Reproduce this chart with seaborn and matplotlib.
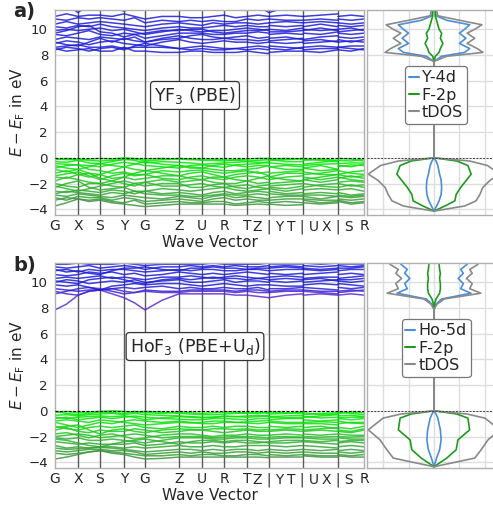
import numpy as np
import pandas as pd
import matplotlib
matplotlib.use("Agg")
import matplotlib.pyplot as plt
import seaborn as sns
from matplotlib.lines import Line2D

# ---------------- k-path ----------------
KPATH_LABELS = ["G", "X", "S", "Y", "G", "Z", "U", "R", "T", "Z | Y", "T | U", "X | S", "R"]
KPATH_POS = [0, 23, 45, 69, 90, 124, 147, 169, 192, 214, 248, 283, 309]

# band values: G m X m S m Y m G m Z m U m R m T m Z | Y m T | U m X | S m R
YF3_VALENCE = [
    [-0.15,-0.05,-0.2,-0.1,-0.05,-0.1,-0.0,-0.05,-0.25,-0.15,-0.05,-0.1,-0.2,-0.2,-0.25,-0.15,-0.1,-0.05,-0.05, -0.1,-0.05,-0.1, -0.2,-0.1,-0.2, -0.05,-0.1,-0.25],
    [-0.05,-0.15,-0.1,-0.2,-0.25,-0.2,-0.15,-0.1,-0.1,-0.05,-0.1,-0.15,-0.1,-0.1,-0.15,-0.2,-0.25,-0.2,-0.15, -0.2,-0.15,-0.05, -0.1,-0.2,-0.3, -0.2,-0.25,-0.1],
    [-0.3,-0.35,-0.2,-0.4,-0.45,-0.3,-0.1,-0.2,-0.4,-0.3,-0.35,-0.4,-0.5,-0.45,-0.4,-0.35,-0.3,-0.35,-0.4, -0.1,-0.3,-0.3, -0.5,-0.35,-0.2, -0.45,-0.4,-0.4],
    [-0.45,-0.5,-0.55,-0.6,-0.7,-0.5,-0.35,-0.45,-0.6,-0.7,-0.8,-0.6,-0.55,-0.65,-0.75,-0.55,-0.5,-0.45,-0.3, -0.4,-0.5,-0.55, -0.6,-0.5,-0.45, -0.7,-0.55,-0.6],
    [-0.6,-0.8,-0.9,-0.7,-0.45,-0.6,-0.7,-0.5,-0.3,-0.5,-0.6,-0.7,-0.8,-0.6,-0.5,-0.6,-0.7,-0.6,-0.6, -0.7,-0.6,-0.7, -0.8,-0.6,-0.9, -0.6,-0.7,-0.5],
    [-0.8,-0.6,-0.55,-0.9,-1.0,-1.2,-1.1,-1.3,-1.3,-1.0,-1.1,-1.0,-0.95,-1.1,-1.2,-1.1,-1.0,-1.2,-1.1, -1.2,-1.1,-1.0, -1.3,-1.2,-1.0, -1.0,-1.2,-1.3],
    [-0.9,-1.1,-0.9,-1.2,-1.3,-1.0,-0.7,-0.9,-1.0,-0.8,-0.6,-0.8,-0.8,-0.9,-1.0,-1.0,-0.9,-0.8,-0.6, -0.7,-0.9,-0.9, -0.8,-1.0,-0.9, -1.3,-1.1,-1.0],
    [-1.2,-1.0,-1.3,-1.5,-1.3,-1.6,-1.5,-1.2,-1.0,-1.2,-1.4,-1.2,-1.1,-1.3,-1.5,-1.3,-1.2,-1.1,-1.4, -1.5,-1.2,-1.2, -1.1,-1.3,-1.3, -1.3,-1.5,-1.4],
    [-1.4,-1.25,-1.1,-1.4,-1.7,-1.4,-1.2,-1.4,-1.3,-1.6,-1.7,-1.5,-1.4,-1.6,-1.7,-1.5,-1.4,-1.5,-1.7, -1.7,-1.5,-1.4, -1.5,-1.7,-1.5, -1.5,-1.7,-1.8],
    [-1.5,-1.6,-1.3,-1.2,-1.6,-1.8,-1.5,-1.7,-1.6,-1.4,-1.4,-1.6,-1.7,-1.5,-1.5,-1.7,-1.8,-1.6,-1.4, -1.5,-1.7,-1.8, -1.7,-1.5,-1.3, -1.6,-1.4,-1.6],
    [-1.8,-1.5,-1.7,-1.9,-2.0,-1.8,-2.0,-2.2,-1.9,-1.7,-1.9,-1.8,-1.7,-1.9,-2.0,-2.0,-1.8,-2.0,-1.9, -2.0,-1.9,-1.8, -1.7,-1.9,-1.7, -1.9,-1.8,-1.9],
    [-2.0,-2.2,-2.3,-2.0,-2.0,-2.2,-2.3,-2.0,-1.9,-2.2,-2.2,-2.1,-2.0,-2.2,-2.3,-2.2,-2.1,-2.3,-2.4, -2.2,-2.1,-2.0, -2.0,-2.2,-2.3, -2.0,-2.2,-2.1],
    [-2.2,-2.4,-2.6,-2.4,-2.2,-2.0,-1.8,-2.0,-2.2,-2.0,-2.0,-2.3,-2.3,-2.1,-2.0,-2.3,-2.4,-2.2,-2.1, -2.3,-2.4,-2.2, -2.3,-2.1,-2.0, -2.3,-2.1,-2.3],
    [-2.3,-2.0,-1.8,-2.3,-2.5,-2.4,-2.3,-2.6,-2.6,-2.4,-2.5,-2.6,-2.5,-2.4,-2.3,-2.5,-2.6,-2.5,-2.4, -2.4,-2.6,-2.4, -2.5,-2.4,-2.5, -2.5,-2.4,-2.6],
    [-2.6,-2.7,-2.5,-2.6,-2.7,-2.5,-2.6,-2.8,-2.6,-2.8,-2.7,-2.8,-2.9,-2.7,-2.6,-2.8,-2.7,-2.6,-2.7, -2.6,-2.8,-2.7, -2.8,-2.7,-2.8, -2.7,-2.9,-2.8],
    [-2.8,-2.6,-2.7,-2.8,-2.9,-2.7,-2.8,-2.6,-2.8,-2.9,-2.9,-3.0,-3.0,-2.9,-2.8,-2.9,-2.9,-2.8,-2.9, -2.8,-2.9,-2.9, -2.9,-2.9,-3.0, -2.9,-3.0,-2.9],
    [-2.9,-3.0,-2.8,-2.9,-3.0,-3.1,-2.9,-3.0,-3.1,-3.2,-3.0,-3.1,-3.2,-3.0,-2.9,-3.1,-3.0,-3.1,-3.2, -3.1,-3.0,-3.0, -3.0,-3.2,-3.0, -3.0,-3.1,-3.0],
    [-3.1,-3.3,-3.0,-3.1,-3.1,-3.3,-3.1,-3.2,-3.4,-3.3,-3.2,-3.3,-3.4,-3.2,-3.1,-3.3,-3.2,-3.3,-3.3, -3.3,-3.2,-3.2, -3.2,-3.3,-3.3, -3.2,-3.3,-3.2],
    [-3.3,-3.1,-3.2,-3.3,-3.2,-3.4,-3.5,-3.3,-3.6,-3.5,-3.4,-3.5,-3.5,-3.4,-3.4,-3.6,-3.5,-3.4,-3.5, -3.5,-3.4,-3.5, -3.3,-3.5,-3.4, -3.3,-3.5,-3.4],
    [-3.75,-3.5,-3.2,-3.4,-3.3,-3.5,-3.6,-3.7,-3.8,-3.7,-3.6,-3.6,-3.6,-3.6,-3.6,-3.7,-3.65,-3.6,-3.65, -3.6,-3.7,-3.65, -3.5,-3.6,-3.5, -3.4,-3.6,-3.5],
]
YF3_CONDUCTION = [
    [8.5,8.3,8.4,8.5,8.3,8.3,8.6,8.3,8.3,8.2,8.2,8.3,8.3,8.2,8.2,8.2,8.3,8.2,8.1, 8.2,8.3,8.3, 8.3,8.2,8.4, 8.4,8.3,8.5],
    [8.4,8.6,8.5,8.3,8.5,8.6,8.4,8.7,8.9,8.7,8.5,8.4,8.5,8.4,8.4,8.5,8.4,8.5,8.4, 8.5,8.4,8.6, 8.4,8.5,8.5, 8.6,8.5,8.4],
    [8.6,8.7,8.8,8.6,8.6,8.7,8.5,8.6,8.6,8.6,8.5,8.6,8.7,8.6,8.5,8.5,8.6,8.7,8.6, 8.7,8.6,8.5, 8.6,8.7,8.6, 8.6,8.7,8.7],
    [8.9,9.1,9.0,8.8,9.0,9.1,8.9,8.8,8.7,9.0,9.2,9.0,8.9,9.0,9.1,9.0,9.0,8.9,9.0, 9.0,8.9,9.0, 8.9,9.0,9.1, 9.0,9.1,9.0],
    [9.0,8.8,8.7,9.0,9.3,9.0,9.3,9.1,9.0,9.3,9.5,9.3,9.2,9.2,9.3,9.2,9.2,9.1,9.2, 9.1,9.2,9.3, 9.1,9.2,9.0, 9.2,9.0,9.2],
    [9.2,9.4,9.3,9.2,9.4,9.3,9.2,9.4,9.0,9.2,9.3,9.5,9.6,9.4,9.3,9.4,9.5,9.3,9.4, 9.3,9.4,9.2, 9.2,9.4,9.5, 9.4,9.3,9.4],
    [9.6,9.5,9.7,9.9,9.6,9.5,9.7,9.6,9.3,9.5,9.7,9.7,9.7,9.6,9.6,9.7,9.7,9.8,9.7, 9.6,9.7,9.6, 9.7,9.6,9.8, 9.7,9.6,9.7],
    [9.7,9.9,10.2,10.3,9.8,9.7,9.4,9.6,9.7,9.9,9.9,10.0,10.0,9.8,9.7,9.8,9.9,9.9,10.0, 9.8,9.8,9.9, 9.9,10.1,9.9, 9.8,9.9,10.0],
    [9.9,10.0,9.9,10.0,10.1,9.9,10.0,9.8,9.6,9.8,10.0,9.9,9.8,9.9,9.9,10.0,10.1,10.0,9.9, 10.0,9.9,10.1, 10.0,9.9,10.0, 10.0,10.1,9.9],
    [10.2,10.1,10.3,10.2,10.4,10.2,10.1,10.0,9.9,10.1,10.2,10.1,10.1,10.2,10.3,10.2,10.3,10.2,10.2, 10.3,10.2,10.3, 10.2,10.4,10.2, 10.3,10.2,10.3],
    [10.4,10.6,10.4,10.5,10.6,10.5,10.4,10.3,10.2,10.4,10.5,10.4,10.3,10.5,10.4,10.5,10.5,10.4,10.5, 10.5,10.6,10.5, 10.5,10.6,10.5, 10.5,10.4,10.5],
    [10.8,10.7,10.9,10.8,10.9,10.8,10.7,10.9,10.5,10.7,10.6,10.7,10.6,10.7,10.6,10.6,10.8,10.7,10.8, 10.8,10.7,10.7, 10.7,10.8,10.7, 10.8,10.7,10.8],
    [11.0,11.2,11.0,11.1,11.1,11.0,11.2,11.0,10.8,11.0,11.0,10.9,10.9,11.0,11.1,10.9,11.0,11.1,11.0, 11.0,11.1,11.0, 11.0,11.1,11.2, 11.0,11.1,11.0],
    [11.6,11.9,11.3,11.9,11.6,11.8,11.4,11.8,11.6,11.9,11.5,11.7,11.6,11.6,11.5,11.7,11.6,11.8,11.3, 11.3,11.7,11.8, 11.6,11.7,11.5, 11.6,11.7,11.6],
]
HOF3_VALENCE = [
    [-0.1,-0.05,-0.15,-0.1,-0.05,-0.0,-0.05,-0.1,-0.05,-0.1,-0.2,-0.25,-0.3,-0.3,-0.25,-0.2,-0.15,-0.2,-0.1, -0.1,-0.15,-0.2, -0.3,-0.2,-0.15, -0.1,-0.2,-0.3],
    [-0.05,-0.2,-0.3,-0.2,-0.1,-0.15,-0.2,-0.05,-0.15,-0.2,-0.1,-0.15,-0.2,-0.15,-0.1,-0.1,-0.2,-0.1,-0.2, -0.25,-0.2,-0.1, -0.15,-0.3,-0.25, -0.2,-0.1,-0.15],
    [-0.35,-0.3,-0.4,-0.3,-0.25,-0.2,-0.3,-0.2,-0.3,-0.35,-0.4,-0.45,-0.5,-0.5,-0.45,-0.45,-0.4,-0.35,-0.45, -0.45,-0.4,-0.35, -0.5,-0.4,-0.3, -0.4,-0.35,-0.45],
    [-0.5,-0.6,-0.5,-0.45,-0.4,-0.45,-0.4,-0.5,-0.7,-0.55,-0.45,-0.5,-0.55,-0.5,-0.4,-0.45,-0.5,-0.45,-0.35, -0.5,-0.55,-0.5, -0.45,-0.55,-0.5, -0.55,-0.5,-0.5],
    [-0.6,-0.5,-0.7,-0.6,-0.5,-0.6,-0.5,-0.4,-0.5,-0.6,-0.65,-0.7,-0.7,-0.6,-0.6,-0.65,-0.7,-0.6,-0.6, -0.7,-0.6,-0.6, -0.7,-0.8,-0.7, -0.6,-0.7,-0.6],
    [-0.8,-0.7,-0.8,-0.9,-0.7,-0.8,-0.9,-1.0,-1.1,-1.0,-0.9,-0.95,-0.9,-0.8,-0.8,-0.9,-0.95,-1.0,-0.9, -0.9,-1.0,-1.0, -0.9,-0.85,-0.9, -0.8,-0.95,-1.0],
    [-0.9,-1.1,-1.3,-1.1,-0.9,-1.0,-0.8,-0.7,-0.8,-0.9,-0.8,-0.9,-1.0,-1.0,-0.9,-0.9,-0.85,-0.8,-0.75, -0.8,-0.9,-0.9, -1.0,-1.0,-1.1, -1.0,-0.9,-0.9],
    [-1.2,-1.4,-1.5,-1.3,-1.2,-1.3,-1.2,-1.1,-1.3,-1.4,-1.2,-1.3,-1.3,-1.2,-1.3,-1.2,-1.2,-1.3,-1.3, -1.2,-1.3,-1.2, -1.3,-1.2,-1.4, -1.3,-1.4,-1.2],
    [-1.3,-1.2,-1.1,-1.5,-1.8,-1.5,-1.4,-1.6,-1.7,-1.5,-1.4,-1.45,-1.5,-1.4,-1.4,-1.45,-1.4,-1.5,-1.45, -1.5,-1.4,-1.45, -1.5,-1.4,-1.3, -1.5,-1.6,-1.4],
    [-1.5,-1.3,-1.6,-1.7,-1.5,-1.6,-1.6,-1.4,-1.5,-1.7,-1.6,-1.5,-1.5,-1.6,-1.7,-1.6,-1.5,-1.6,-1.6, -1.6,-1.5,-1.6, -1.6,-1.5,-1.6, -1.6,-1.7,-1.5],
    [-1.8,-1.7,-1.9,-2.1,-1.9,-1.8,-2.0,-2.2,-2.1,-1.9,-1.8,-1.8,-1.9,-2.0,-1.9,-1.9,-1.8,-1.9,-1.9, -1.9,-1.8,-1.9, -1.8,-1.9,-1.8, -1.8,-1.9,-1.9],
    [-2.0,-1.9,-1.8,-1.9,-2.1,-2.0,-1.9,-1.8,-1.9,-2.1,-2.0,-2.0,-2.0,-2.1,-2.05,-2.0,-2.0,-2.05,-2.1, -2.05,-2.0,-2.05, -2.0,-2.05,-2.0, -2.0,-2.05,-2.0],
    [-2.1,-2.2,-2.1,-2.3,-2.3,-2.2,-2.3,-2.4,-2.5,-2.3,-2.1,-2.1,-2.1,-2.2,-2.2,-2.1,-2.1,-2.2,-2.2, -2.2,-2.1,-2.1, -2.1,-2.2,-2.2, -2.1,-2.2,-2.2],
    [-2.2,-2.3,-2.5,-2.7,-2.8,-2.6,-2.4,-2.3,-2.2,-2.4,-2.6,-2.4,-2.3,-2.3,-2.4,-2.3,-2.3,-2.4,-2.5, -2.4,-2.3,-2.3, -2.3,-2.4,-2.3, -2.4,-2.3,-2.3],
    [-2.4,-2.5,-2.6,-2.5,-2.6,-2.6,-2.6,-2.5,-2.7,-2.6,-2.4,-2.5,-2.5,-2.4,-2.5,-2.4,-2.5,-2.5,-2.4, -2.5,-2.5,-2.4, -2.4,-2.5,-2.6, -2.5,-2.4,-2.5],
    [-2.7,-2.9,-2.8,-2.9,-2.8,-2.8,-2.9,-2.8,-2.9,-2.8,-2.7,-2.8,-2.8,-2.7,-2.8,-2.8,-2.7,-2.7,-2.7, -2.7,-2.8,-2.7, -2.7,-2.8,-2.9, -2.8,-2.7,-2.8],
    [-2.9,-3.0,-2.95,-2.9,-2.85,-2.9,-3.0,-3.1,-3.2,-3.1,-3.0,-3.0,-3.1,-3.0,-3.1,-3.0,-3.0,-3.1,-3.0, -3.0,-3.1,-3.0, -3.0,-3.1,-3.0, -3.1,-3.0,-3.1],
    [-3.1,-3.2,-3.1,-3.0,-3.0,-3.1,-3.1,-3.2,-3.4,-3.3,-3.2,-3.3,-3.2,-3.3,-3.3,-3.2,-3.2,-3.3,-3.2, -3.2,-3.3,-3.2, -3.2,-3.3,-3.3, -3.2,-3.3,-3.2],
    [-3.3,-3.4,-3.3,-3.2,-3.1,-3.2,-3.3,-3.4,-3.5,-3.5,-3.4,-3.5,-3.4,-3.4,-3.5,-3.5,-3.4,-3.4,-3.5, -3.4,-3.5,-3.4, -3.4,-3.5,-3.5, -3.4,-3.5,-3.4],
    [-3.75,-3.6,-3.4,-3.2,-3.1,-3.3,-3.4,-3.6,-3.75,-3.7,-3.6,-3.6,-3.6,-3.6,-3.6,-3.6,-3.6,-3.6,-3.65, -3.6,-3.6,-3.6, -3.5,-3.6,-3.6, -3.5,-3.6,-3.6],
]
HOF3_CONDUCTION = [
    [7.85,8.3,9.0,9.3,9.4,9.1,8.8,8.4,7.85,8.6,9.1,9.1,9.1,9.1,9.1,9.0,9.0,8.9,8.8, 8.8,9.0,9.1, 9.0,9.1,9.0, 9.0,9.1,9.0],
    [9.1,9.3,9.5,9.6,9.5,9.3,9.1,9.2,9.4,9.3,9.3,9.4,9.4,9.4,9.4,9.3,9.4,9.4,9.3, 9.3,9.4,9.4, 9.4,9.3,9.3, 9.3,9.4,9.3],
    [9.3,9.1,9.0,9.3,9.4,9.5,9.3,9.2,9.3,9.2,9.2,9.3,9.3,9.3,9.3,9.2,9.3,9.2,9.2, 9.2,9.3,9.3, 9.3,9.2,9.1, 9.2,9.3,9.4],
    [9.5,9.4,9.3,9.4,9.4,9.5,9.6,9.5,9.6,9.7,9.5,9.6,9.5,9.5,9.6,9.5,9.5,9.6,9.4, 9.5,9.5,9.6, 9.6,9.5,9.4, 9.6,9.5,9.6],
    [9.8,9.7,9.8,9.6,9.4,9.7,9.8,9.9,9.8,9.9,9.9,9.8,9.7,9.8,9.9,9.8,9.7,9.8,9.8, 9.8,9.7,9.7, 9.8,9.9,9.8, 9.9,9.8,9.7],
    [10.0,10.2,10.1,9.9,10.0,10.1,10.0,10.2,10.0,10.1,10.2,10.0,10.0,10.1,10.2,10.0,10.1,10.1,10.0, 10.1,10.0,10.1, 10.0,10.1,10.2, 10.1,10.0,10.1],
    [10.1,10.0,9.9,10.2,10.3,10.4,10.2,10.0,9.9,10.2,10.3,10.2,10.3,10.4,10.3,10.3,10.2,10.3,10.2, 10.2,10.3,10.2, 10.2,10.3,10.1, 10.2,10.2,10.3],
    [10.3,10.4,10.3,10.4,10.5,10.3,10.4,10.3,10.2,10.4,10.4,10.5,10.4,10.3,10.4,10.5,10.4,10.3,10.4, 10.4,10.5,10.4, 10.3,10.4,10.4, 10.3,10.4,10.5],
    [10.6,10.5,10.6,10.8,10.7,10.8,10.6,10.7,10.5,10.6,10.8,10.7,10.6,10.7,10.6,10.7,10.8,10.7,10.6, 10.7,10.6,10.7, 10.6,10.7,10.8, 10.6,10.7,10.6],
    [10.9,11.0,10.8,11.0,10.9,11.0,11.0,10.9,10.8,10.9,11.0,10.9,11.0,11.0,10.9,10.9,11.0,11.0,10.9, 10.9,11.0,11.0, 11.0,10.9,11.0, 10.9,11.0,11.0],
    [11.0,10.8,10.9,10.7,10.6,10.9,11.1,11.1,11.2,11.0,10.9,11.1,11.1,11.2,11.1,11.1,11.0,11.1,11.1, 11.1,11.2,11.1, 11.1,11.0,11.1, 11.1,11.1,11.2],
    [11.2,11.1,11.2,11.3,11.1,11.2,11.3,11.2,11.0,11.2,11.2,11.3,11.2,11.3,11.2,11.3,11.2,11.2,11.3, 11.2,11.3,11.2, 11.3,11.2,11.3, 11.3,11.2,11.3],
    [11.4,11.4,11.5,11.4,11.4,11.4,11.5,11.4,11.3,11.4,11.4,11.4,11.4,11.5,11.4,11.4,11.4,11.4,11.5, 11.4,11.4,11.4, 11.5,11.4,11.5, 11.4,11.4,11.4],
]

# ---------------- DOS (half-widths, a.u.) ----------------
YF3_DOS_E = [-4.15, -3.75, -3.35, -2.85, -2.3, -1.75, -1.27, -0.6, -0.25, 0.0, 7.5, 7.9, 8.2, 8.5, 8.9, 9.3, 9.7, 10.0, 10.35, 10.7, 11.05, 11.5]
YF3_TDOS = [0.0, 1.2, 1.65, 1.8, 1.92, 2.2, 2.58, 2.1, 1.4, 0.0, 0.0, 0.5, 1.92, 1.7, 1.3, 1.6, 1.3, 1.6, 1.88, 1.0, 0.15, 0.1]
YF3_Y4D = [0.0, 0.1, 0.2, 0.28, 0.3, 0.28, 0.22, 0.15, 0.08, 0.0, 0.0, 0.3, 1.2, 1.4, 1.0, 1.25, 1.0, 1.2, 1.4, 0.5, 0.08, 0.05]
YF3_F2P = [0.0, 0.43, 0.82, 0.87, 1.05, 1.27, 1.46, 1.33, 0.9, 0.0, 0.0, 0.05, 0.2, 0.25, 0.35, 0.25, 0.3, 0.2, 0.15, 0.1, 0.05, 0.05]

HOF3_DOS_E = [-4.35, -3.68, -3.03, -2.26, -1.48, -0.57, -0.25, 0.0, 7.9, 8.3, 8.7, 9.15, 9.5, 9.9, 10.3, 10.7, 11.0, 11.4, 11.5]
HOF3_TDOS = [0.0, 1.6, 1.85, 2.12, 2.58, 2.0, 1.3, 0.0, 0.0, 0.12, 0.4, 1.84, 1.4, 1.5, 1.27, 1.5, 1.4, 1.73, 1.7]
HOF3_HO5D = [0.0, 0.1, 0.22, 0.28, 0.25, 0.15, 0.08, 0.0, 0.0, 0.08, 0.3, 1.45, 1.05, 1.15, 0.95, 1.15, 1.05, 1.3, 1.3]
HOF3_F2P = [0.0, 0.5, 0.87, 0.94, 1.4, 1.33, 0.9, 0.0, 0.0, 0.02, 0.08, 0.22, 0.25, 0.25, 0.22, 0.25, 0.22, 0.2, 0.2]

PANELS = [
    dict(tag="a)", val=YF3_VALENCE, con=YF3_CONDUCTION, name="YF$_3$ (PBE)", name_y=4.85,
         dos_e=YF3_DOS_E, tdos=YF3_TDOS, d=YF3_Y4D, p=YF3_F2P, dlab="Y-4d",
         con_cols=["#1c1cd6", "#1c1cd6"]),
    dict(tag="b)", val=HOF3_VALENCE, con=HOF3_CONDUCTION, name="HoF$_3$ (PBE+U$_\\mathrm{d}$)", name_y=5.0,
         dos_e=HOF3_DOS_E, tdos=HOF3_TDOS, d=HOF3_HO5D, p=HOF3_F2P, dlab="Ho-5d",
         con_cols=["#5a2ad2", "#1c1cd6", "#1c1cd6", "#1c1cd6"]),
]

# ---------------- style ----------------
sns.set_style("white")
plt.rcParams["font.family"] = ["DejaVu Sans"]
plt.rcParams["mathtext.fontset"] = "dejavusans"

W, H = 493, 508
fig = plt.figure(figsize=(W / 100, H / 100), dpi=100)

def kx():
    n = KPATH_POS
    xs = []
    for i in range(9):
        xs += [n[i], (n[i] + n[i + 1]) / 2]
    xs.append(n[9])
    for i in range(9, 12):
        xs += [n[i], (n[i] + n[i + 1]) / 2, n[i + 1]]
    return xs

PIECES = [(0, 19), (19, 22), (22, 25), (25, 28)]

def band_frame(bands, prefix):
    xs = kx()
    order = np.argsort([-np.mean(b) for b in bands])  # rank from top to bottom
    rank = {int(o): r for r, o in enumerate(order)}
    rows = []
    for i, b in enumerate(bands):
        for p, (s, e) in enumerate(PIECES):
            for j in range(s, e):
                rows.append((xs[j], b[j], f"{prefix}{rank[i]:02d}", f"{prefix}{i}_{p}"))
    return pd.DataFrame(rows, columns=["k", "E", "band", "seg"])

GRID_C = "#dddddd"
SPINE_C = "#b0b0b0"
YLIM = (-4.45, 11.5)

for idx, P in enumerate(PANELS):
    top_px = 10 if idx == 0 else 263
    bottom = 1 - (top_px + 205) / H
    hgt = 205 / H
    axb = fig.add_axes([55 / W, bottom, 309 / W, hgt])
    axd = fig.add_axes([367 / W, bottom, 134 / W, hgt])

    # band axes
    axb.set_xlim(KPATH_POS[0], KPATH_POS[-1])
    axb.set_ylim(*YLIM)
    axb.set_yticks([-4, -2, 0, 2, 4, 6, 8, 10])
    axb.yaxis.grid(True, color=GRID_C, lw=1.0)
    axb.set_axisbelow(True)
    for xv in KPATH_POS[1:-1]:
        axb.axvline(xv, color="#5a5a5a", lw=1.0, zorder=1)

    dv = band_frame(P["val"], "v")
    vnames = sorted(dv["band"].unique())
    vcols = sns.blend_palette(["#00ea00", "#10dc10", "#2fb02f", "#3e943e"], len(vnames))
    sns.lineplot(data=dv, x="k", y="E", hue="band", units="seg", estimator=None,
                 sort=False, palette=dict(zip(vnames, vcols)),
                 legend=False, lw=1.1, alpha=0.85, ax=axb)
    dc = band_frame(P["con"], "c")
    cnames = sorted(dc["band"].unique(), reverse=True)  # bottom first
    ccols = sns.blend_palette(P["con_cols"], len(cnames))
    sns.lineplot(data=dc, x="k", y="E", hue="band", units="seg", estimator=None,
                 sort=False, palette=dict(zip(cnames, ccols)),
                 legend=False, lw=1.1, alpha=0.85, ax=axb)
    axb.axhline(0, color="black", lw=0.8, ls=(0, (2.5, 1.5)), zorder=5)

    axb.set_xticks(KPATH_POS)
    axb.set_xticklabels(KPATH_LABELS)
    axb.tick_params(axis="x", length=0, pad=3, labelsize=10)
    axb.tick_params(axis="y", length=3, width=0.8, color="#555", pad=2, labelsize=9.6)
    axb.set_xlabel("Wave Vector", fontsize=11, labelpad=1)
    axb.set_ylabel("$E - E_\\mathrm{F}$ in eV", fontsize=11, labelpad=1)
    for s in axb.spines.values():
        s.set_color(SPINE_C)
        s.set_linewidth(1.0)
    axb.text(140, P["name_y"], P["name"], ha="center", va="center",
             fontsize=12.5,
             bbox=dict(boxstyle="round,pad=0.2", fc="white", ec="#333333", lw=0.9),
             zorder=6)

    # DOS axes
    axd.set_xlim(-2.63, 2.63)
    axd.set_ylim(*YLIM)
    axd.set_xticks([-2, -1, 0, 1, 2])
    axd.set_yticks([-4, -2, 0, 2, 4, 6, 8, 10])
    axd.grid(True, color=GRID_C, lw=1.0)
    axd.set_axisbelow(True)
    axd.tick_params(length=0, labelbottom=False, labelleft=False)
    for s in axd.spines.values():
        s.set_color(SPINE_C)
        s.set_linewidth(1.0)
    E = np.array(P["dos_e"])
    for vals, col in [(P["d"], "#4a8fd6"), (P["p"], "#1e9a1e"), (P["tdos"], "#8a8a8a")]:
        v = np.array(vals)
        for sgn in (1, -1):
            sns.lineplot(x=sgn * v, y=E, orient="y", sort=False, estimator=None,
                         color=col, lw=1.2, ax=axd)
    axd.axhline(0, color="#444444", lw=0.7, ls=(0, (2, 1.5)), zorder=5)
    axd.set_xlabel("DOS in a.u.", fontsize=11, labelpad=4)
    axd.set_ylabel("")
    axd.xaxis.set_label_coords(67 / 134, -0.125)
    handles = [Line2D([], [], color="#4a8fd6", lw=1.5),
               Line2D([], [], color="#1e9a1e", lw=1.5),
               Line2D([], [], color="#8a8a8a", lw=1.5)]
    leg = axd.legend(handles, [P["dlab"], "F-2p", "tDOS"], loc="center",
                     bbox_to_anchor=(0.515, 0.585), fontsize=11.5, handlelength=0.6,
                     handletextpad=0.2, borderpad=0.25, labelspacing=0.15,
                     frameon=True, fancybox=True, framealpha=1, borderaxespad=0)
    leg.get_frame().set_edgecolor("#777777")
    leg.get_frame().set_linewidth(0.9)

    fig.text(13 / W, 1 - (top_px + 2) / H, P["tag"], fontsize=14, fontweight="bold",
             ha="left", va="center")

fig.savefig("out.png", dpi=100)
